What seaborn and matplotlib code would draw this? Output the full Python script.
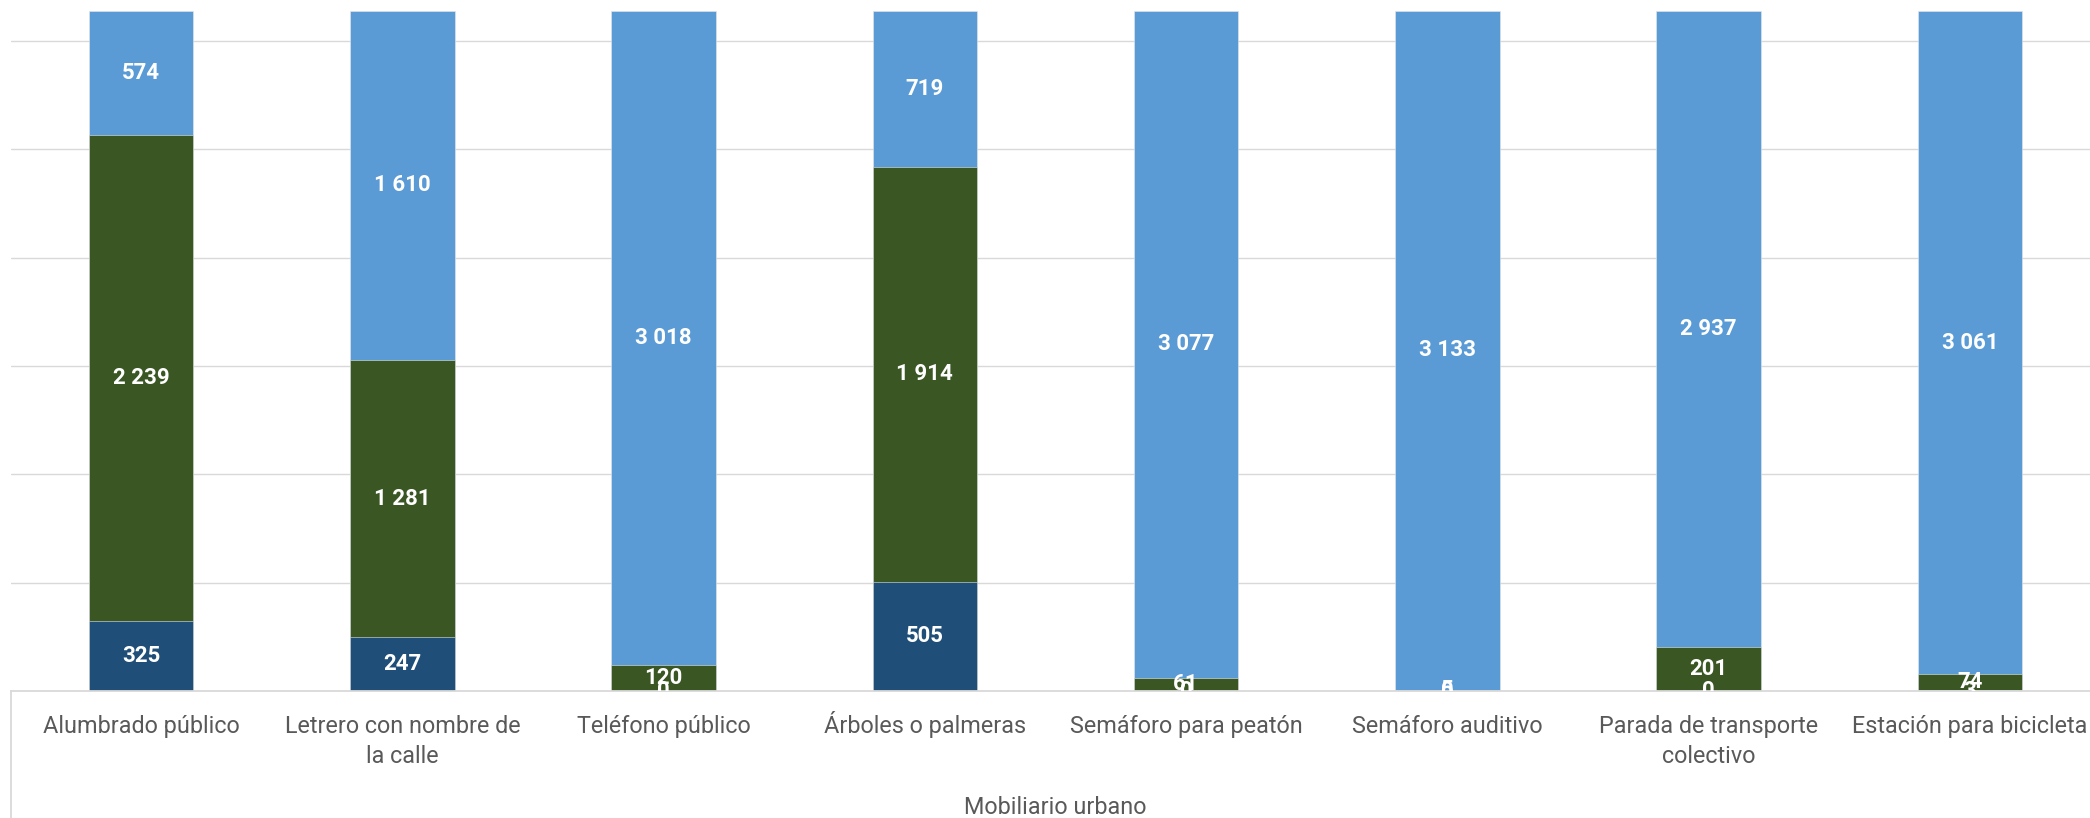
import numpy as np
import pandas as pd
import matplotlib.pyplot as plt
from matplotlib.lines import Line2D
import seaborn as sns

# ====================================================
# Mobiliario urbano - stacked bars (3 series)
# ====================================================
categories = [
    "Alumbrado público", "Letrero con nombre de\nla calle", "Teléfono público",
    "Árboles o palmeras", "Semáforo para peatón", "Semáforo auditivo",
    "Parada de transporte\ncolectivo", "Estación para bicicleta",
]
serie_baja = [325, 247, 0, 505, 0, 0, 0, 3]           # dark blue (bottom)
serie_media = [2239, 1281, 120, 1914, 61, 5, 201, 74]  # dark green (middle)
serie_alta = [574, 1610, 3018, 719, 3077, 3133, 2937, 3061]  # light blue (top)
group_label = "Mobiliario urbano"

col_baja = "#1F4E79"
col_media = "#3A5623"
col_alta = "#5B9BD5"
grid_col = "#D9D9D9"
text_col = "#595959"

sns.set_theme(style="white")
plt.rcParams["font.family"] = ["Roboto", "DejaVu Sans"]

df = pd.DataFrame({
    "cat": categories,
    "baja": serie_baja,
    "media": serie_media,
    "alta": serie_alta,
})
df["cum_media"] = df["baja"] + df["media"]
df["cum_alta"] = df["cum_media"] + df["alta"]

W, H = 2090, 818
fig = plt.figure(figsize=(W / 100, H / 100), dpi=100)
ax_left = 10.5 / W
ax_bottom = (H - 691) / H
ax_height = 680 / H
ax = fig.add_axes([ax_left, ax_bottom, 2090 / W, ax_height])

# cumulative totals drawn back to front
for col, color in [("cum_alta", col_alta), ("cum_media", col_media), ("baja", col_baja)]:
    sns.barplot(data=df, x="cat", y=col, color=color, width=0.4, ax=ax,
                saturation=1, edgecolor="#E8E8E8", linewidth=0.4, zorder=2)

ax.set_xlim(-0.5, 7.5)
ax.set_ylim(0, 3138)
ax.set_yticks(np.arange(500, 3001, 500))
ax.set_yticklabels([])
ax.yaxis.grid(True, color=grid_col, linewidth=1.0)
ax.set_axisbelow(True)
ax.tick_params(axis="both", length=0)
for s in ["top", "left", "right"]:
    ax.spines[s].set_visible(False)
ax.spines["bottom"].set_color(grid_col)
ax.spines["bottom"].set_linewidth(1.3)
ax.set_xlabel("")
ax.set_ylabel("")

# category labels line by line on a shared baseline (the accent in "Árboles"
# would otherwise push that label down)
ax.set_xticks(range(len(categories)))
ax.set_xticklabels([])
trans = ax.get_xaxis_transform()
line_y = [-(733 - 691) / 680, -(763 - 691) / 680]
for i, cat in enumerate(categories):
    for j, line in enumerate(cat.split("\n")):
        ax.text(i, line_y[j], line, transform=trans, ha="center", va="baseline",
                fontsize=16.8, color=text_col, clip_on=False)

# data labels centred in each segment
def fmt(v):
    return f"{v:,}".replace(",", " ")

for i in range(len(categories)):
    segs = [(0, serie_baja[i]),
            (serie_baja[i], serie_media[i]),
            (serie_baja[i] + serie_media[i], serie_alta[i])]
    for bottom, v in segs:
        ax.text(i, bottom + v / 2, fmt(v), ha="center", va="center",
                color="white", fontsize=16, fontweight="bold",
                clip_on=True, zorder=5)

# category table border and group label
fig.add_artist(Line2D([ax_left, ax_left], [0, ax_bottom], color=grid_col,
                      linewidth=1.3, transform=fig.transFigure))
fig.text(ax_left + 0.5 * (2090 / W), (H - 808) / H, group_label,
         ha="center", va="center", fontsize=16.8, color=text_col)

fig.savefig("out.png", dpi=100)
